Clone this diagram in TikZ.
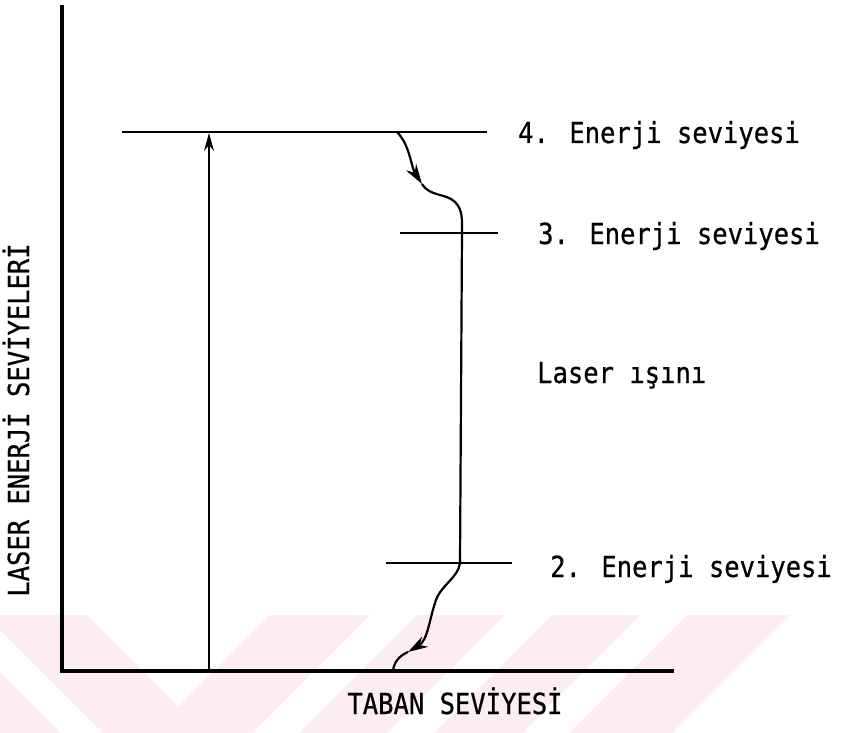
\documentclass[tikz,border=0pt]{standalone}
\usepackage{fontspec}
\newfontfamily\lblfont{DejaVu Sans Mono}[FakeStretch=0.88,FakeBold=0.6]
\usetikzlibrary{arrows.meta}
\definecolor{wmpink}{RGB}{253,236,240}
\begin{document}
\begin{tikzpicture}[x=1pt,y=-1pt,
  lbl/.style={font=\fontsize{29}{32}\selectfont\lblfont, inner sep=0pt},
  axisline/.style={line width=3.2pt},
  levelline/.style={line width=2.4pt},
  wave/.style={line width=2.2pt},
  tipped/.style={-{Stealth[length=18pt,width=10pt]}},
  wavetip/.style={-{Stealth[length=20pt,width=12pt]}}]
\useasboundingbox (0,0) rectangle (844,733);
% watermark
\fill[wmpink] (0,615) -- (87,615) -- (205,733) -- (103,733) -- (0,630) -- cycle;
\fill[wmpink] (0,672) -- (61,733) -- (0,733) -- cycle;
\fill[wmpink] (270,615) -- (370,615) -- (252,733) -- (152,733) -- cycle;
\fill[wmpink] (417,615) -- (505,615) -- (387,733) -- (299,733) -- cycle;
\fill[wmpink] (552,615) -- (640,615) -- (522,733) -- (434,733) -- cycle;
\fill[wmpink] (687,615) -- (790,615) -- (672,733) -- (569,733) -- cycle;
% coordinates
\coordinate (O) at (62,671);
\coordinate (Ytop) at (62,5);
\coordinate (Xend) at (674,671);
\coordinate (L4a) at (122,132);
\coordinate (L4b) at (487,132);
\coordinate (L3a) at (400,233);
\coordinate (L3b) at (498,233);
\coordinate (L2a) at (386,563);
\coordinate (L2b) at (512,563);
\coordinate (Abot) at (209,671);
\coordinate (Atop) at (209,133);
\coordinate (W0) at (397,132);
\coordinate (W1) at (422,184);
\coordinate (W2) at (462,233);
\coordinate (W3) at (460,563);
\coordinate (W4) at (408,652);
\coordinate (W5) at (393,671);
% axes and levels
\draw[axisline] (Ytop) -- (O) -- (Xend);
\draw[levelline] (L4a) -- (L4b);
\draw[levelline] (L3a) -- (L3b);
\draw[levelline] (L2a) -- (L2b);
% pump arrow
\draw[line width=1.6pt, tipped] (Abot) -- (Atop);
% wavy transitions
\draw[wave, wavetip] (W0) .. controls (410,145) and (411,167) .. (W1);
\draw[wave] (W1) .. controls (430,197) and (446,193) .. (455,202) .. controls (463,210) and (462,220) .. (W2);
\draw[wave] (W2) -- (W3);
\draw[wave, wavetip] (W3) .. controls (458,578) and (442,584) .. (436,600) .. controls (429,620) and (428,640) .. (W4);
\draw[wave] (W4) .. controls (399,656) and (394,662) .. (W5);
% labels
\node[lbl, anchor=base west] (t4) at (518,143) {4. Enerji seviyesi};
\node[lbl, anchor=base west] (t3) at (538,244) {3. Enerji seviyesi};
\node[lbl, anchor=base west] (tl) at (537,383) {Laser ışını};
\node[lbl, anchor=base west] (t2) at (550,577) {2. Enerji seviyesi};
\node[lbl, anchor=base] (tb) at (455,714) {TABAN SEVİYESİ};
\node[lbl, rotate=90] (ty) at (16,420) {LASER ENERJİ SEVİYELERİ};
\end{tikzpicture}
\end{document}
